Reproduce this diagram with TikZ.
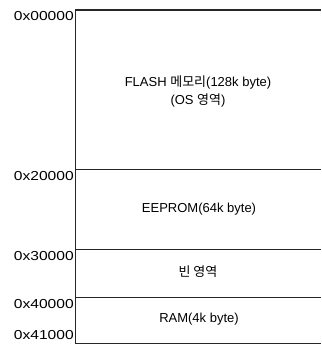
\documentclass[tikz,border=0pt]{standalone}
\usepackage{fontspec}
\setmainfont{Liberation Sans}
\newfontfamily\kr{Noto Sans CJK KR}
\begin{document}
\begin{tikzpicture}[x=1pt,y=-1pt,
  memline/.style={draw=black!85,line width=1pt},
  addr/.style={anchor=east,font=\fontsize{13}{15}\selectfont,xscale=1.2,inner sep=0pt},
  lbl/.style={font=\fontsize{13}{18}\selectfont,align=center,inner sep=0pt}]
\useasboundingbox (0,0) rectangle (321,345);
\coordinate (a0) at (75,10);  \coordinate (b0) at (321,10);
\coordinate (a1) at (75,169); \coordinate (b1) at (321,169);
\coordinate (a2) at (75,249); \coordinate (b2) at (321,249);
\coordinate (a3) at (75,297); \coordinate (b3) at (321,297);
\coordinate (a4) at (75,343); \coordinate (b4) at (321,343);
\draw[memline,line width=1.3pt] (a0) -- (b0);
\draw[memline] (a1) -- (b1);
\draw[memline] (a2) -- (b2);
\draw[memline] (a3) -- (b3);
\draw[memline] (a4) -- (b4);
\draw[memline] (a0) -- (a4);
\node[addr] (l0) at (74,16) {0x00000};
\node[addr] (l1) at (74,176) {0x20000};
\node[addr] (l2) at (74,256) {0x30000};
\node[addr] (l3) at (74,304) {0x40000};
\node[addr] (l4) at (74,335) {0x41000};
\node[lbl] (flash) at (198,91) {FLASH {\kr 메모리}(128k byte)\\({OS} {\kr 영역})};
\node[lbl] (eep) at (199,209) {EEPROM(64k byte)};
\node[lbl] (empty) at (198,272) {\kr 빈 영역};
\node[lbl] (ram) at (199,319) {RAM(4k byte)};
\end{tikzpicture}
\end{document}
